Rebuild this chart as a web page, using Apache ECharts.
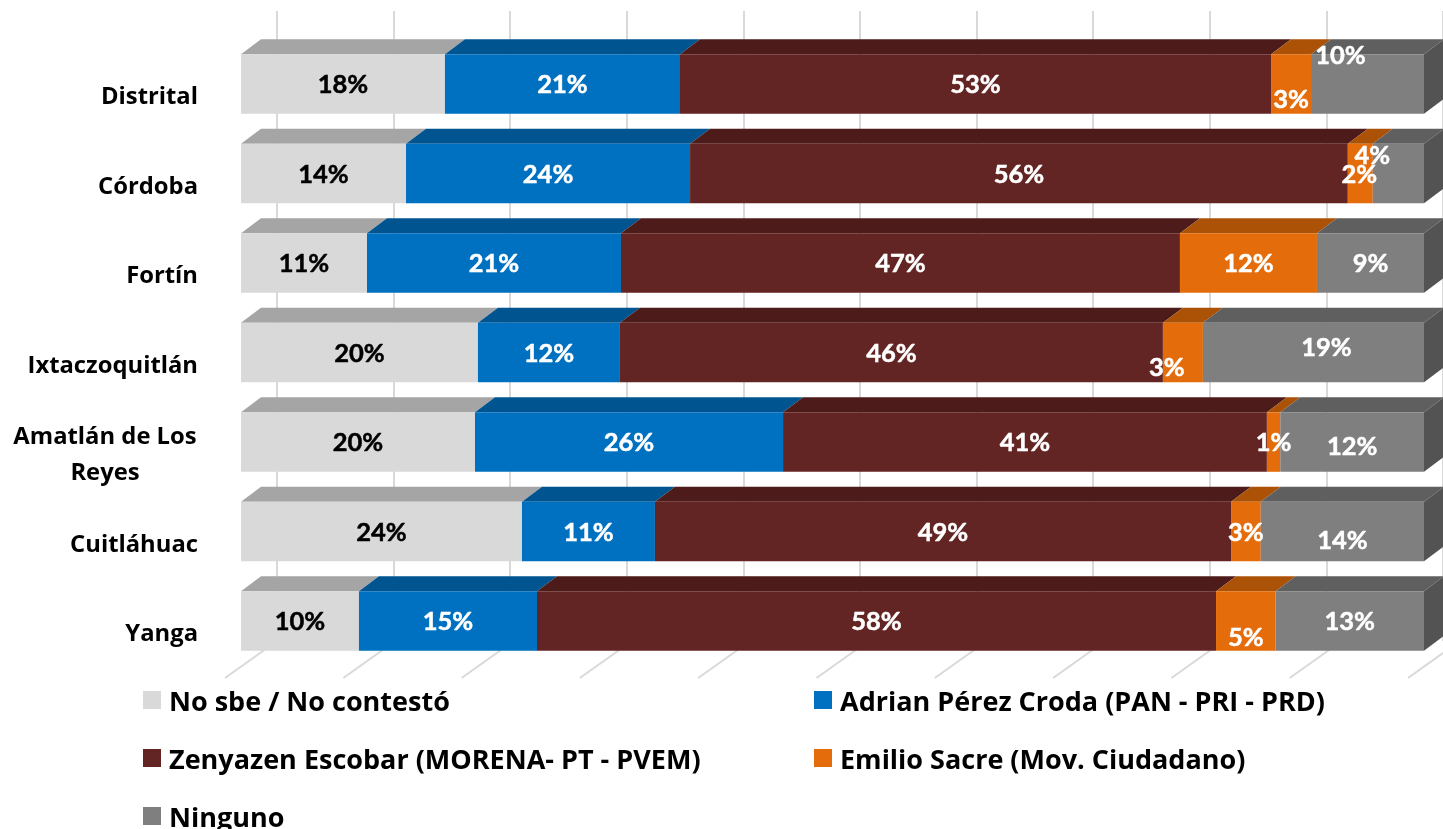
<!DOCTYPE html>
<html><head><meta charset="utf-8">
<style>html,body{margin:0;padding:0;background:#fff}#c{width:1443px;height:829px}</style>
<script src="https://cdn.jsdelivr.net/npm/echarts@6/dist/echarts.min.js"></script>
</head><body><div id="c"></div>
<script>
// Categories and legend names
const categories = ['Distrital','Córdoba','Fortín','Ixtaczoquitlán','Amatlán de Los\nReyes','Cuitláhuac','Yanga'];
const names = ['No sbe / No contestó','Adrian Pérez Croda (PAN - PRI - PRD)','Zenyazen Escobar (MORENA- PT - PVEM)','Emilio Sacre (Mov. Ciudadano)','Ninguno'];
// Share of each bar (axis 0-100)
const noSabe   = [17.24,13.95,10.65,20.03,19.78,23.75, 9.97];
const adrian   = [19.87,24.01,21.47,12.00,26.04,11.24,15.05];
const zenyazen = [49.96,55.60,47.25,45.90,40.90,48.70,57.40];
const emilio   = [ 3.38, 2.11,11.58, 3.38, 1.13, 2.51, 5.03];
const ninguno  = [ 9.55, 4.33, 9.05,18.69,12.15,13.80,12.55];
// Printed percentage labels
const labNoSabe   = ['18%','14%','11%','20%','20%','24%','10%'];
const labAdrian   = ['21%','24%','21%','12%','26%','11%','15%'];
const labZenyazen = ['53%','56%','47%','46%','41%','49%','58%'];
const labEmilio   = ['3%','2%','12%','3%','1%','3%','5%'];
const labNinguno  = ['10%','4%','9%','19%','12%','14%','13%'];
const axisTicks = [0,10,20,30,40,50,60,70,80,90,100];

// Styling and label placement (kept apart from the data)
const front = ['#d9d9d9','#0070c0','#632523','#e46c0a','#7f7f7f'];
const topFace = ['#a5a5a5','#005490','#4c1b1a','#ab5207','#5f5f5f'];
const sideFace = '#535353';
const labelColor = ['#000','#fff','#fff','#fff','#fff'];
const DX = 20, DY = 15, BAR = 59.5;
const FONT = 'Lato', FONT2 = 'Open Sans';
const shiftEmilio  = [[0,16],[-1,1],[0,1],[-16,15],[0,1],[0,1],[0,17]];
const shiftNinguno = [[-27,-28],[-26,-18],[0,1],[13,-5],[0,5],[0,9],[0,1]];
const noShift = categories.map(()=>[0,1]);

const values = [noSabe,adrian,zenyazen,emilio,ninguno];
const labels = [labNoSabe,labAdrian,labZenyazen,labEmilio,labNinguno];
const shifts = [noShift,noShift,noShift,shiftEmilio,shiftNinguno];

const segs = [];
categories.forEach((c,i)=>{
  let acc = 0;
  values.forEach((v,s)=>{ segs.push([acc, acc+v[i], i, s]); acc += v[i]; });
});

function renderFaces(params, api){
  const a = api.value(0), b = api.value(1), cat = api.value(2), s = api.value(3);
  const p0 = api.coord([a,cat]), p1 = api.coord([b,cat]);
  const yt = p0[1]-BAR/2, yb = p0[1]+BAR/2;
  const kids = [{
    type:'polygon', shape:{points:[[p0[0],yt],[p1[0],yt],[p1[0]+DX,yt-DY],[p0[0]+DX,yt-DY]]},
    style:{fill:topFace[s]}
  }];
  if (s === 4) kids.push({
    type:'polygon', shape:{points:[[p1[0],yt],[p1[0]+DX,yt-DY],[p1[0]+DX,yb-DY],[p1[0],yb]]},
    style:{fill:sideFace}
  });
  return {type:'group', children:kids};
}
function renderFloor(params, api){
  const x = api.coord([api.value(0),0])[0];
  return {type:'line', shape:{x1:x-16,y1:678,x2:x+36,y2:641}, style:{stroke:'#d9d9d9',lineWidth:2}};
}

const chart = echarts.init(document.getElementById('c'),null,{renderer:'canvas'});
const legendSpots = [[143,689.5],[814,689.5],[143,747.5],[814,747.5],[143,805.5]];
chart.setOption({
  animation:false,
  backgroundColor:'#fff',
  grid:[
    {left:241,width:1183,top:39.3,height:626.5},
    {left:277,width:1183,top:11,height:630}
  ],
  xAxis:[
    {type:'value',min:0,max:100,interval:10,gridIndex:0,show:false},
    {type:'value',min:0,max:100,interval:10,gridIndex:1,axisLabel:{show:false},axisLine:{show:false},axisTick:{show:false},
     splitLine:{show:true,lineStyle:{color:'#d9d9d9',width:2}}}
  ],
  yAxis:[
    {type:'category',inverse:true,data:categories,gridIndex:0,axisLine:{show:false},axisTick:{show:false},
     axisLabel:{margin:43,fontFamily:FONT2,fontWeight:'bold',fontSize:23.8,color:'#000',padding:[27,0,0,0],lineHeight:36,
       formatter:n=>n.includes('\n')?n.split('\n').map(t=>'{c|'+t+'}').join('\n'):n,
       rich:{c:{width:186,align:'center',fontFamily:FONT2,fontWeight:'bold',fontSize:23.8,color:'#000',lineHeight:36}}}},
    {type:'category',gridIndex:1,show:false,data:['w']}
  ],
  legend:names.map((n,i)=>({
    data:[n],left:legendSpots[i][0],top:legendSpots[i][1],icon:'rect',itemWidth:18,itemHeight:18,selectedMode:false,
    padding:0,formatter:'{t|{name}}',
    textStyle:{fontFamily:FONT2,fontWeight:'bold',fontSize:27,color:'#000',
      rich:{t:{fontFamily:FONT2,fontWeight:'bold',fontSize:27,color:'#000',padding:[6,0,0,3]}}}
  })),
  series:[
    {type:'custom',name:'floor',z:1,silent:true,renderItem:renderFloor,data:axisTicks.map(t=>[t]),encode:{x:0},xAxisIndex:0,yAxisIndex:0},
    {type:'custom',name:'faces',z:2,silent:true,renderItem:renderFaces,data:segs,xAxisIndex:0,yAxisIndex:0,encode:{x:[0,1],y:2}},
    ...names.map((n,s)=>({
      type:'bar',name:n,stack:'all',z:3,barWidth:BAR,xAxisIndex:0,yAxisIndex:0,
      itemStyle:{color:front[s]},
      data:values[s].map((v,i)=>({value:v,label:{offset:shifts[s][i]}})),
      label:{show:true,position:'inside',fontFamily:FONT,fontWeight:'bold',fontSize:25.5,color:labelColor[s],
        textBorderColor:labelColor[s],textBorderWidth:0.5,
        formatter:p=>labels[s][p.dataIndex]}
    }))
  ]
});
</script></body></html>
